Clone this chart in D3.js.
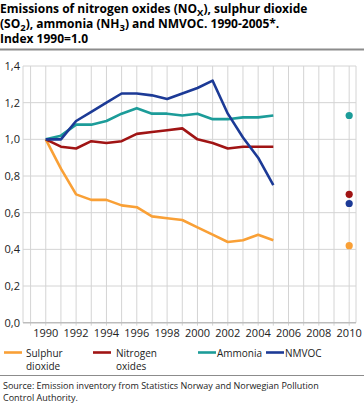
<!DOCTYPE html>
<html><head><meta charset="utf-8">
<script src="https://cdn.jsdelivr.net/npm/d3@7"></script>
<style>
body{margin:0;background:#fff;}
text{font-family:"Open Sans",sans-serif;}
</style></head>
<body><svg id="c" width="364" height="406"></svg>
<script>
const years = [1990,1991,1992,1993,1994,1995,1996,1997,1998,1999,2000,2001,2002,2003,2004,2005];
const sulphur = [1.0,0.84,0.70,0.67,0.67,0.64,0.63,0.58,0.57,0.56,0.52,0.48,0.44,0.45,0.48,0.45];
const nitrogen = [1.0,0.96,0.95,0.99,0.98,0.99,1.03,1.04,1.05,1.06,1.0,0.98,0.95,0.96,0.96,0.96];
const ammonia = [1.0,1.02,1.08,1.08,1.10,1.14,1.17,1.14,1.14,1.13,1.14,1.11,1.11,1.12,1.12,1.13];
const nmvoc = [1.0,1.0,1.10,1.15,1.20,1.25,1.25,1.24,1.22,1.25,1.28,1.32,1.14,1.01,0.90,0.75];
const target2010 = {sulphur:0.42, nitrogen:0.70, ammonia:1.13, nmvoc:0.65};
const seriesNames = ["Sulphur dioxide","Nitrogen oxides","Ammonia","NMVOC"];
const colors = ["#f9a036","#a01414","#1c9c99","#1c3a96"];
const yTicks = [0,0.2,0.4,0.6,0.8,1.0,1.2,1.4];
const xTickYears = [1990,1992,1994,1996,1998,2000,2002,2004,2006,2008,2010];

const svg = d3.select("#c");
const x = d3.scaleLinear().domain([1988.5,2010.45]).range([23,356]);
const y = d3.scaleLinear().domain([0,1.4]).range([322.7,66]);

// title
const t = svg.append("text").attr("x",0).attr("font-size",12).attr("font-weight",700).attr("fill","#000");
const l1 = t.append("tspan").attr("x",0).attr("y",13);
l1.append("tspan").text("Emissions of nitrogen oxides (NO");
l1.append("tspan").attr("font-size",9.5).attr("dy",3).text("X");
l1.append("tspan").attr("dy",-3).text("), sulphur dioxide");
const l2 = t.append("tspan").attr("x",0).attr("y",28);
l2.append("tspan").text("(SO");
l2.append("tspan").attr("font-size",9.5).attr("dy",3).text("2");
l2.append("tspan").attr("dy",-3).text("), ammonia (NH");
l2.append("tspan").attr("font-size",9.5).attr("dy",3).text("3");
l2.append("tspan").attr("dy",-3).text(") and NMVOC. 1990-2005*.");
t.append("tspan").attr("x",0).attr("y",43).text("Index 1990=1.0");
svg.append("line").attr("x1",0).attr("x2",364).attr("y1",49.5).attr("y2",49.5).attr("stroke","#8c8c8c").attr("stroke-width",2);

// grid
const gridYears = d3.range(1989,2011);
svg.append("g").selectAll("line").data(gridYears).join("line")
  .attr("x1",d=>x(d)).attr("x2",d=>x(d)).attr("y1",y(1.4)).attr("y2",y(0)+3)
  .attr("stroke","#d4d4d4").attr("stroke-width",1);
svg.append("line").attr("x1",x.range()[0]).attr("x2",x.range()[0]).attr("y1",y(1.4)).attr("y2",y(0))
  .attr("stroke","#d4d4d4");
svg.append("line").attr("x1",x.range()[1]).attr("x2",x.range()[1]).attr("y1",y(1.4)).attr("y2",y(0))
  .attr("stroke","#d4d4d4");
svg.append("g").selectAll("line").data(yTicks).join("line")
  .attr("x1",x.range()[0]).attr("x2",x.range()[1]).attr("y1",d=>y(d)).attr("y2",d=>y(d))
  .attr("stroke",d=>d===0?"#bdbdbd":"#d4d4d4").attr("stroke-width",d=>d===0?1.5:1);

// axis labels
svg.append("g").selectAll("text").data(yTicks).join("text")
  .attr("x",20).attr("y",d=>y(d)+4).attr("text-anchor","end").attr("font-size",11).attr("fill","#222")
  .text(d=>d3.format(".1f")(d).replace(".",","));
svg.append("g").selectAll("text").data(xTickYears).join("text")
  .attr("x",d=>x(d)).attr("y",337).attr("text-anchor","middle").attr("font-size",11).attr("fill","#222")
  .text(d=>d);

// lines
const data = [sulphur,nitrogen,ammonia,nmvoc];
const line = d3.line().x((d,i)=>x(years[i])).y(d=>y(d));
data.forEach((s,i)=>{
  svg.append("path").datum(s).attr("d",line).attr("fill","none")
    .attr("stroke",colors[i]).attr("stroke-width",2.6).attr("stroke-linejoin","round");
});
const tv = [target2010.sulphur,target2010.nitrogen,target2010.ammonia,target2010.nmvoc];
tv.forEach((v,i)=>{
  svg.append("circle").attr("cx",x(2010)).attr("cy",y(v)).attr("r",3.6).attr("fill",colors[i]);
});

// legend
const leg = [
  {x:4, tx:26, lines:["Sulphur","dioxide"]},
  {x:93, tx:116, lines:["Nitrogen","oxides"]},
  {x:198, tx:217, lines:["Ammonia"]},
  {x:266, tx:285, lines:["NMVOC"]}
];
leg.forEach((l,i)=>{
  svg.append("line").attr("x1",l.x).attr("x2",l.x+18).attr("y1",352.5).attr("y2",352.5)
    .attr("stroke",colors[i]).attr("stroke-width",2.6);
  const tt = svg.append("text").attr("font-size",10).attr("fill","#222");
  l.lines.forEach((s,j)=>tt.append("tspan").attr("x",l.tx).attr("y",356.5+j*13.5).text(s));
});
svg.append("line").attr("x1",0).attr("x2",364).attr("y1",375.5).attr("y2",375.5).attr("stroke","#8c8c8c").attr("stroke-width",1);
const src = svg.append("text").attr("font-size",9).attr("fill","#222");
src.append("tspan").attr("x",3).attr("y",389).text("Source: Emission inventory from Statistics Norway and Norwegian Pollution");
src.append("tspan").attr("x",3).attr("y",401).text("Control Authority.");
</script></body></html>
